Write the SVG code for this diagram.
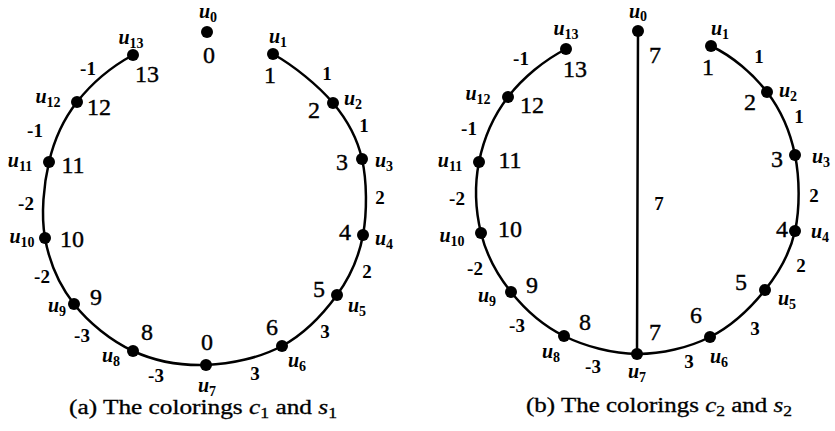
<svg xmlns="http://www.w3.org/2000/svg" width="835" height="431" viewBox="0 0 835 431">
<style>
.e{fill:none;stroke:#000;stroke-width:2.5;stroke-linecap:round}
.d{fill:#000}
text{font-family:"Liberation Serif","Times New Roman",serif;fill:#000;text-anchor:middle}
.n{font-size:24px;stroke:#000;stroke-width:0.4}
.l{font-size:19px;font-weight:bold}
.u{font-size:20px;font-weight:bold;font-style:italic}
.s{font-size:14px;font-style:normal}
.cap{font-size:20px;stroke:#000;stroke-width:0.3}
</style>
<rect width="835" height="431" fill="#fff"/>
<g id="connectors">
<g id="edges-a">
<path class="e" d="M133 55C111.3 66.7 91 84.2 77 102"/>
<path class="e" d="M77 102C63 119.8 54.3 139.3 49 162"/>
<path class="e" d="M49 162C43.7 184.7 40.8 214.3 45 238"/>
<path class="e" d="M45 238C49.2 261.7 59.3 285.2 74 304"/>
<path class="e" d="M74 304C88.7 322.8 111 340.8 133 351"/>
<path class="e" d="M133 351C155 361.2 181.2 365.8 206 365"/>
<path class="e" d="M206 365C230.8 364.2 260.2 357.7 282 346"/>
<path class="e" d="M282 346C303.8 334.3 323.5 313.5 337 295"/>
<path class="e" d="M337 295C350.5 276.5 358.8 257.7 363 235"/>
<path class="e" d="M363 235C367.2 212.3 367 181 362 159"/>
<path class="e" d="M362 159C357 137 347.8 120.5 333 103"/>
<path class="e" d="M333 103C318.2 85.5 294 65.8 273 54"/>
<text class="l" x="88" y="75">-1</text>
<text class="l" x="35" y="137">-1</text>
<text class="l" x="26" y="210">-2</text>
<text class="l" x="42" y="283">-2</text>
<text class="l" x="82" y="342">-3</text>
<text class="l" x="156" y="382">-3</text>
<text class="l" x="255" y="380">3</text>
<text class="l" x="325" y="338">3</text>
<text class="l" x="367" y="278">2</text>
<text class="l" x="380" y="204">2</text>
<text class="l" x="364" y="132">1</text>
<text class="l" x="327" y="80">1</text>
</g>
<g id="edges-b">
<path class="e" d="M638 31L637 354"/>
<path class="e" d="M566 49C544.3 60 522.5 78.2 508 97"/>
<path class="e" d="M508 97C493.5 115.8 483.5 139.3 479 162"/>
<path class="e" d="M479 162C474.5 184.7 475.7 211.3 481 233"/>
<path class="e" d="M481 233C486.3 254.7 497.2 274.8 511 292"/>
<path class="e" d="M511 292C524.8 309.2 543 325.7 564 336"/>
<path class="e" d="M564 336C585 346.3 612.7 353.8 637 354"/>
<path class="e" d="M637 354C661.3 354.2 688.7 347.7 710 337"/>
<path class="e" d="M710 337C731.3 326.3 750.8 307.7 765 290"/>
<path class="e" d="M765 290C779.2 272.3 790 253.5 795 231"/>
<path class="e" d="M795 231C800 208.5 799.7 178.2 795 155"/>
<path class="e" d="M795 155C790.3 131.8 781 110.2 767 92"/>
<path class="e" d="M767 92C753 73.8 732.5 56.2 711 46"/>
<text class="l" x="659" y="210">7</text>
<text class="l" x="521" y="65">-1</text>
<text class="l" x="469" y="135">-1</text>
<text class="l" x="457" y="205">-2</text>
<text class="l" x="475" y="275">-2</text>
<text class="l" x="517" y="332">-3</text>
<text class="l" x="593" y="373">-3</text>
<text class="l" x="689" y="368">3</text>
<text class="l" x="755" y="335">3</text>
<text class="l" x="801" y="272">2</text>
<text class="l" x="814" y="202">2</text>
<text class="l" x="799" y="123">1</text>
<text class="l" x="759" y="63">1</text>
</g>
</g>
<g id="a-u0"><circle class="d" cx="207" cy="32" r="6"/><text class="u" x="208" y="18">u<tspan class="s" dy="4">0</tspan></text><text class="n" x="209" y="63">0</text></g>
<g id="a-u1"><circle class="d" cx="273" cy="54" r="6"/><text class="u" x="278" y="43">u<tspan class="s" dy="4">1</tspan></text><text class="n" x="270" y="83">1</text></g>
<g id="a-u2"><circle class="d" cx="333" cy="103" r="6"/><text class="u" x="353" y="105">u<tspan class="s" dy="4">2</tspan></text><text class="n" x="314" y="118">2</text></g>
<g id="a-u3"><circle class="d" cx="362" cy="159" r="6"/><text class="u" x="384" y="167">u<tspan class="s" dy="4">3</tspan></text><text class="n" x="342" y="170">3</text></g>
<g id="a-u4"><circle class="d" cx="363" cy="235" r="6"/><text class="u" x="384" y="245">u<tspan class="s" dy="4">4</tspan></text><text class="n" x="345" y="240">4</text></g>
<g id="a-u5"><circle class="d" cx="337" cy="295" r="6"/><text class="u" x="357" y="312">u<tspan class="s" dy="4">5</tspan></text><text class="n" x="319" y="297">5</text></g>
<g id="a-u6"><circle class="d" cx="282" cy="346" r="6"/><text class="u" x="297" y="367">u<tspan class="s" dy="4">6</tspan></text><text class="n" x="272" y="335">6</text></g>
<g id="a-u7"><circle class="d" cx="206" cy="365" r="6"/><text class="u" x="207" y="392">u<tspan class="s" dy="4">7</tspan></text><text class="n" x="207" y="350">0</text></g>
<g id="a-u8"><circle class="d" cx="133" cy="351" r="6"/><text class="u" x="111" y="362">u<tspan class="s" dy="4">8</tspan></text><text class="n" x="147" y="340">8</text></g>
<g id="a-u9"><circle class="d" cx="74" cy="304" r="6"/><text class="u" x="57" y="312">u<tspan class="s" dy="4">9</tspan></text><text class="n" x="96" y="305">9</text></g>
<g id="a-u10"><circle class="d" cx="45" cy="238" r="6"/><text class="u" x="22" y="243">u<tspan class="s" dy="4">10</tspan></text><text class="n" x="72" y="247">10</text></g>
<g id="a-u11"><circle class="d" cx="49" cy="162" r="6"/><text class="u" x="20" y="167">u<tspan class="s" dy="4">11</tspan></text><text class="n" x="73" y="173">11</text></g>
<g id="a-u12"><circle class="d" cx="77" cy="102" r="6"/><text class="u" x="48" y="103">u<tspan class="s" dy="4">12</tspan></text><text class="n" x="99" y="115">12</text></g>
<g id="a-u13"><circle class="d" cx="133" cy="55" r="6"/><text class="u" x="131" y="44">u<tspan class="s" dy="4">13</tspan></text><text class="n" x="147" y="82">13</text></g>
<g id="b-u0"><circle class="d" cx="638" cy="31" r="6"/><text class="u" x="638" y="18">u<tspan class="s" dy="3">0</tspan></text><text class="n" x="655" y="63">7</text></g>
<g id="b-u1"><circle class="d" cx="711" cy="46" r="6"/><text class="u" x="720" y="35">u<tspan class="s" dy="4">1</tspan></text><text class="n" x="708" y="75">1</text></g>
<g id="b-u2"><circle class="d" cx="767" cy="92" r="6"/><text class="u" x="788" y="97">u<tspan class="s" dy="4">2</tspan></text><text class="n" x="750" y="110">2</text></g>
<g id="b-u3"><circle class="d" cx="795" cy="155" r="6"/><text class="u" x="821" y="163">u<tspan class="s" dy="4">3</tspan></text><text class="n" x="777" y="167">3</text></g>
<g id="b-u4"><circle class="d" cx="795" cy="231" r="6"/><text class="u" x="820" y="238">u<tspan class="s" dy="4">4</tspan></text><text class="n" x="782" y="237">4</text></g>
<g id="b-u5"><circle class="d" cx="765" cy="290" r="6"/><text class="u" x="787" y="305">u<tspan class="s" dy="4">5</tspan></text><text class="n" x="741" y="290">5</text></g>
<g id="b-u6"><circle class="d" cx="710" cy="337" r="6"/><text class="u" x="719" y="363">u<tspan class="s" dy="4">6</tspan></text><text class="n" x="696" y="323">6</text></g>
<g id="b-u7"><circle class="d" cx="637" cy="354" r="6"/><text class="u" x="637" y="378">u<tspan class="s" dy="4">7</tspan></text><text class="n" x="655" y="340">7</text></g>
<g id="b-u8"><circle class="d" cx="564" cy="336" r="6"/><text class="u" x="551" y="358">u<tspan class="s" dy="4">8</tspan></text><text class="n" x="585" y="330">8</text></g>
<g id="b-u9"><circle class="d" cx="511" cy="292" r="6"/><text class="u" x="487" y="302">u<tspan class="s" dy="4">9</tspan></text><text class="n" x="532" y="293">9</text></g>
<g id="b-u10"><circle class="d" cx="481" cy="233" r="6"/><text class="u" x="452" y="242">u<tspan class="s" dy="4">10</tspan></text><text class="n" x="510" y="237">10</text></g>
<g id="b-u11"><circle class="d" cx="479" cy="162" r="6"/><text class="u" x="450" y="167">u<tspan class="s" dy="4">11</tspan></text><text class="n" x="510" y="168">11</text></g>
<g id="b-u12"><circle class="d" cx="508" cy="97" r="6"/><text class="u" x="478" y="100">u<tspan class="s" dy="4">12</tspan></text><text class="n" x="532" y="113">12</text></g>
<g id="b-u13"><circle class="d" cx="566" cy="49" r="6"/><text class="u" x="566" y="35">u<tspan class="s" dy="4">13</tspan></text><text class="n" x="575" y="77">13</text></g>
<g id="captions">
<text class="cap" x="203" y="414" textLength="268" lengthAdjust="spacingAndGlyphs">(a) The colorings <tspan font-style="italic">c</tspan><tspan font-size="14" dy="4">1</tspan><tspan dy="-4"> and </tspan><tspan font-style="italic">s</tspan><tspan font-size="14" dy="4">1</tspan></text>
<text class="cap" x="659" y="412" textLength="266" lengthAdjust="spacingAndGlyphs">(b) The colorings <tspan font-style="italic">c</tspan><tspan font-size="14" dy="4">2</tspan><tspan dy="-4"> and </tspan><tspan font-style="italic">s</tspan><tspan font-size="14" dy="4">2</tspan></text>
</g>
</svg>
